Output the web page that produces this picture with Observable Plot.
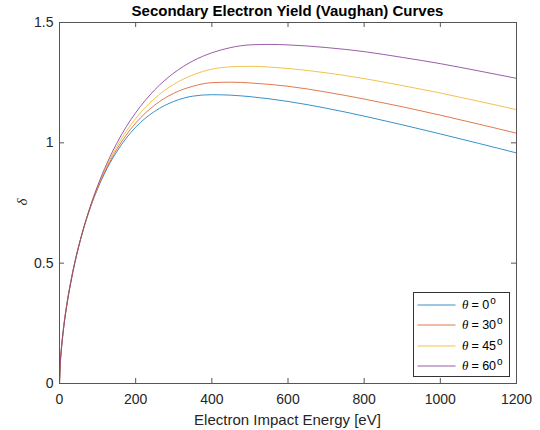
<!DOCTYPE html>
<html><head><meta charset="utf-8">
<script src="https://cdn.jsdelivr.net/npm/d3@7"></script>
<script src="https://cdn.jsdelivr.net/npm/@observablehq/plot@0.6"></script>
<style>
html,body{margin:0;padding:0;background:#fff;}
#wrap{position:relative;width:540px;height:430px;overflow:hidden;font-family:"Liberation Sans",Arial,Helvetica,sans-serif;}
#chart{position:absolute;left:0;top:0;}
.title{position:absolute;left:49px;width:477px;top:3px;text-align:center;font-weight:bold;font-size:15px;line-height:15px;color:#000;white-space:nowrap;}
.xlabel{position:absolute;left:59px;width:457px;top:412px;text-align:center;font-size:15px;line-height:15px;color:#262626;white-space:nowrap;}
.ylabel{position:absolute;left:22px;top:202px;transform:translate(-50%,-50%) rotate(-90deg);font-family:"Liberation Serif","DejaVu Serif",serif;font-style:italic;font-size:15px;line-height:15px;color:#262626;}
#legend{position:absolute;left:413px;top:292px;width:97px;height:85px;box-sizing:border-box;border:1px solid #333;background:#fff;}
.row{position:absolute;left:3px;height:14px;line-height:14px;display:flex;align-items:center;font-size:12.5px;color:#000;white-space:nowrap;}
.row svg{margin-right:6px;display:block;}
.th{font-family:"Liberation Serif","DejaVu Serif",serif;font-style:italic;font-size:13px;margin-right:3px;}
.row sup{font-size:10px;line-height:0;position:relative;top:-4px;margin-left:1px;}
</style></head>
<body>
<div id="wrap">
  <div id="chart"></div>
  <div class="title">Secondary Electron Yield (Vaughan) Curves</div>
  <div class="xlabel">Electron Impact Energy [eV]</div>
  <div class="ylabel">δ</div>
  <div id="legend"></div>
</div>
<script>
// ---- data ----
const energy = [0, 2, 5, 10, 20, 30, 40, 60, 80, 100, 125, 150, 175, 200, 250, 300, 350, 400, 450, 500, 550, 600, 700, 800, 900, 1000, 1100, 1200];
const yield0  = [0, 0.083, 0.146, 0.223, 0.338, 0.427, 0.503, 0.627, 0.727, 0.809, 0.894, 0.962, 1.019, 1.065, 1.131, 1.172, 1.194, 1.200, 1.198, 1.192, 1.183, 1.172, 1.144, 1.111, 1.075, 1.037, 0.998, 0.958];
const yield30 = [0, 0.082, 0.145, 0.221, 0.335, 0.425, 0.501, 0.626, 0.727, 0.812, 0.899, 0.972, 1.032, 1.082, 1.157, 1.206, 1.235, 1.250, 1.252, 1.249, 1.243, 1.235, 1.211, 1.182, 1.150, 1.115, 1.078, 1.040];
const yield45 = [0, 0.081, 0.144, 0.220, 0.333, 0.423, 0.499, 0.626, 0.729, 0.815, 0.906, 0.983, 1.047, 1.101, 1.185, 1.243, 1.282, 1.306, 1.316, 1.318, 1.315, 1.309, 1.291, 1.267, 1.238, 1.207, 1.173, 1.138];
const yield60 = [0, 0.081, 0.143, 0.219, 0.332, 0.422, 0.499, 0.627, 0.732, 0.821, 0.916, 0.997, 1.066, 1.125, 1.220, 1.290, 1.340, 1.374, 1.396, 1.407, 1.409, 1.407, 1.396, 1.379, 1.355, 1.329, 1.299, 1.268];
const angles = [0, 30, 45, 60];
const seriesNames = ["θ = 0°", "θ = 30°", "θ = 45°", "θ = 60°"];
const colors = ["#0072BD", "#D95319", "#EDB120", "#7E2F8E"];
const xTicks = [0, 200, 400, 600, 800, 1000, 1200];
const yTicks = [0, 0.5, 1, 1.5];

const allSeries = [yield0, yield30, yield45, yield60];
const rows = allSeries.flatMap((vals, i) => energy.map((e, j) => ({E: e, d: vals[j], s: seriesNames[i]})));

const W = 540, H = 430, mL = 59, mR = 24, mT = 22, mB = 47;
const plotW = W - mL - mR, plotH = H - mT - mB, tk = 5;

const chart = Plot.plot({
  width: W, height: H,
  marginLeft: mL, marginRight: mR, marginTop: mT, marginBottom: mB,
  style: {fontFamily: "Liberation Sans, Arial, sans-serif", fontSize: "14px", color: "#262626", background: "white", overflow: "visible"},
  x: {domain: [0, 1200]},
  y: {domain: [0, 1.5]},
  color: {domain: seriesNames, range: colors},
  marks: [
    Plot.line(rows, {x: "E", y: "d", z: "s", stroke: "s", curve: "monotone-x", strokeWidth: 1, strokeOpacity: 0.78}),
    Plot.frame({stroke: "#555", strokeWidth: 1}),
    Plot.ruleX(xTicks, {x: d => d, insetTop: plotH - tk, stroke: "#555"}),
    Plot.ruleX(xTicks, {x: d => d, insetBottom: plotH - tk, stroke: "#555"}),
    Plot.ruleY(yTicks, {y: d => d, insetRight: plotW - tk, stroke: "#555"}),
    Plot.ruleY(yTicks, {y: d => d, insetLeft: plotW - tk, stroke: "#555"}),
    Plot.axisX({ticks: xTicks, tickSize: 0, tickPadding: 11, label: null, tickFormat: d => String(d)}),
    Plot.axisY({ticks: yTicks, tickSize: 0, tickPadding: 6, label: null, tickFormat: d => String(d)})
  ]
});
document.getElementById("chart").appendChild(chart);

// legend
const legend = document.getElementById("legend");
angles.forEach((a, i) => {
  const row = document.createElement("div");
  row.className = "row";
  row.style.top = (4.6 + i * 20.6) + "px";
  row.innerHTML = `<svg width="39" height="10"><line x1="0.5" x2="38.5" y1="5" y2="5" stroke="${colors[i]}" stroke-opacity="0.78" stroke-width="1"/></svg><span class="th">θ</span><span>= ${a}</span><sup>o</sup>`;
  legend.appendChild(row);
});
</script>
</body></html>
